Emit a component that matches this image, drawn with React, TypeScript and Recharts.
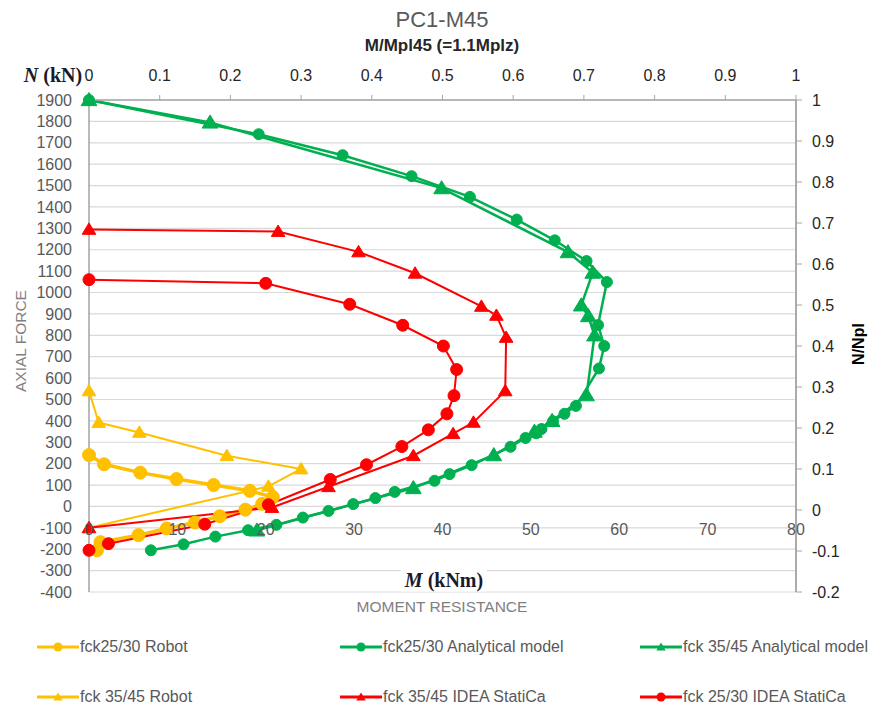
import React from "react";
import { LineChart, Line, XAxis, YAxis, CartesianGrid, ReferenceDot } from "recharts";

const YELLOW = "#FFC000";
const GREEN = "#00B050";
const RED = "#FF0000";

// fck25/30 Robot
const robot2530M = [0, 1.7, 5.8, 9.9, 14.1, 18.2, 20.8, 19.6, 17.7, 14.8, 12.0, 8.8, 5.6, 1.3, 0.9];
const robot2530N = [240, 197, 158, 128, 100, 73, 44, 12, -15, -46, -75, -103, -134, -167, -205];

// fck25/30 Analytical model
const anal2530M = [0, 19.2, 28.7, 36.5, 43.1, 48.4, 52.7, 56.3, 58.6, 57.6, 58.3, 57.7, 55.1, 53.8, 52.5, 51.2, 50.6, 49.4, 47.7, 43.3, 40.8, 39.1, 34.6, 32.4, 29.9, 27.1, 24.2, 21.2, 18.0, 14.3, 10.7, 7.0];
const anal2530N = [1900, 1740, 1642, 1544, 1447, 1341, 1244, 1147, 1049, 848, 750, 645, 470, 433, 398, 362, 342, 320, 279, 193, 151, 120, 68, 39, 11, -21, -52, -86, -111, -141, -177, -205];

// fck 35/45 Analytical model
const anal3545M = [0, 13.7, 39.9, 54.2, 57.0, 55.7, 56.5, 57.2, 56.3, 52.4, 50.4, 45.8, 36.7, 19.0];
const anal3545N = [1900, 1795, 1488, 1189, 1093, 940, 890, 800, 520, 400, 350, 240, 86, -112];

// fck 35/45 Robot
const robot3545M = [0, 1.1, 5.7, 15.6, 24.0, 20.3, 0];
const robot3545N = [540, 392, 346, 237, 175, 94, -100];

// fck 35/45 IDEA StatiCa
const idea3545M = [0, 21.4, 30.5, 36.9, 44.4, 46.1, 47.2, 47.1, 43.5, 41.2, 36.7, 27.1, 20.7, 0];
const idea3545N = [1295, 1285, 1190, 1090, 935, 893, 790, 540, 393, 340, 237, 92, -5, -100];

// fck 25/30 IDEA StatiCa
const idea2530M = [0, 20.0, 29.5, 35.5, 40.1, 41.6, 41.3, 40.5, 38.4, 35.4, 31.4, 27.3, 20.3, 13.1, 2.2, 0];
const idea2530N = [1060, 1043, 945, 847, 750, 640, 518, 433, 358, 280, 195, 126, 8, -83, -174, -205];

const leftTicks = [-400, -300, -200, -100, 0, 100, 200, 300, 400, 500, 600, 700, 800, 900, 1000, 1100, 1200, 1300, 1400, 1500, 1600, 1700, 1800, 1900];
const rightTicks = [-0.2, -0.1, 0, 0.1, 0.2, 0.3, 0.4, 0.5, 0.6, 0.7, 0.8, 0.9, 1];
const topTicks = [0, 0.1, 0.2, 0.3, 0.4, 0.5, 0.6, 0.7, 0.8, 0.9, 1];
const mTicks = [0, 10, 20, 30, 40, 50, 60, 70, 80];

const zip = (m: number[], n: number[]) => m.map((v, i) => ({ m: v, n: n[i] }));

const triPath = (cx: number, cy: number, s: number) =>
  `M${cx},${cy - s} L${cx + s * 1.05},${cy + s * 0.75} L${cx - s * 1.05},${cy + s * 0.75} Z`;

const triDot = (color: string, s: number) => (p: any) => (
  <path key={`t-${p.index}`} d={triPath(p.cx, p.cy, s)} fill={color} stroke={color} />
);

const series = [
  { name: "fck25/30 Robot", data: zip(robot2530M, robot2530N), color: YELLOW, width: 3.5, shape: "circle", size: 6.5 },
  { name: "fck25/30 Analytical model", data: zip(anal2530M, anal2530N), color: GREEN, width: 2.5, shape: "circle", size: 5.5 },
  { name: "fck 35/45 Analytical model", data: zip(anal3545M, anal3545N), color: GREEN, width: 2.5, shape: "tri", size: 7.5 },
  { name: "fck 35/45 Robot", data: zip(robot3545M, robot3545N), color: YELLOW, width: 2, shape: "tri", size: 6.5 },
  { name: "fck 35/45 IDEA StatiCa", data: zip(idea3545M, idea3545N), color: RED, width: 2, shape: "tri", size: 6.5 },
  { name: "fck 25/30 IDEA StatiCa", data: zip(idea2530M, idea2530N), color: RED, width: 2, shape: "circle", size: 6 },
];

const legendOrder = [
  { idx: 0, x: 37, y: 647 },
  { idx: 1, x: 340, y: 647 },
  { idx: 2, x: 640, y: 647 },
  { idx: 3, x: 37, y: 697 },
  { idx: 4, x: 340, y: 697 },
  { idx: 5, x: 640, y: 697 },
];

function Txt({ x, y, children, style }: any) {
  return (
    <div
      style={{
        position: "absolute",
        left: x,
        top: y,
        transform: "translate(-50%, -50%)",
        whiteSpace: "nowrap",
        ...style,
      }}
    >
      {children}
    </div>
  );
}

export default function App() {
  return (
    <div
      style={{
        position: "absolute",
        left: 0,
        top: 0,
        width: 883,
        height: 711,
        background: "#fff",
        fontFamily: "'Liberation Sans', Arial, sans-serif",
      }}
    >
      <LineChart
        width={883}
        height={711}
        data={series[1].data}
        margin={{ top: 70, right: 0, bottom: 119, left: 0 }}
      >
        <XAxis
          xAxisId="m"
          dataKey="m"
          type="number"
          domain={[0, 80]}
          ticks={mTicks}
          orientation="bottom"
          height={0}
          tick={false}
          axisLine={false}
          tickLine={false}
        />
        <XAxis
          xAxisId="top"
          dataKey="m"
          type="number"
          orientation="top"
          domain={[0, 1]}
          allowDataOverflow
          ticks={topTicks}
          interval={0}
          height={30}
          tickSize={5}
          tickMargin={14}
          axisLine={{ stroke: "#a6a6a6", strokeWidth: 1.5 }}
          tickLine={{ stroke: "#a6a6a6" }}
          tick={{ fill: "#262626", fontSize: 16 }}
        />
        <YAxis
          yAxisId="left"
          type="number"
          domain={[-400, 1900]}
          ticks={leftTicks}
          interval={0}
          width={89}
          axisLine={false}
          tickLine={false}
          tickSize={0}
          tickMargin={17}
          tick={{ fill: "#595959", fontSize: 16 }}
        />
        <YAxis
          yAxisId="right"
          orientation="right"
          type="number"
          domain={[-0.2, 1]}
          allowDataOverflow
          ticks={rightTicks}
          interval={0}
          width={87}
          tickSize={6}
          tickMargin={10}
          axisLine={{ stroke: "#a6a6a6", strokeWidth: 1.5 }}
          tickLine={{ stroke: "#a6a6a6" }}
          tick={{ fill: "#262626", fontSize: 16, textAnchor: "start" }}
        />
        <CartesianGrid xAxisId="m" yAxisId="left" vertical={false} stroke="#d9d9d9" strokeWidth={1.2} />
        <CartesianGrid xAxisId="m" yAxisId="left" horizontal={false} stroke="#8c8c8c" strokeWidth={1.2} />
        {mTicks.map((t) => (
          <ReferenceDot
            key={`mt-${t}`}
            xAxisId="m"
            yAxisId="left"
            x={t}
            y={-105}
            r={0}
            fill="none"
            stroke="none"
            label={{ value: String(t), position: "center", fill: "#595959", fontSize: 16 }}
          />
        ))}
        {series.map((s) => (
          <Line
            key={s.name}
            name={s.name}
            xAxisId="m"
            yAxisId="left"
            data={s.data}
            dataKey="n"
            type="linear"
            stroke={s.color}
            strokeWidth={s.width}
            dot={
              s.shape === "circle"
                ? { r: s.size, fill: s.color, stroke: s.color, strokeWidth: 1 }
                : triDot(s.color, s.size)
            }
            activeDot={false}
            isAnimationActive={false}
          />
        ))}
      </LineChart>

      <Txt x={442} y={20} style={{ fontSize: 22, color: "#595959" }}>PC1-M45</Txt>
      <Txt x={442} y={46} style={{ fontSize: 17, fontWeight: "bold", color: "#262626" }}>M/Mpl45 (=1.1Mplz)</Txt>
      <Txt
        x={53}
        y={75}
        style={{ fontFamily: "'Liberation Serif', serif", fontWeight: "bold", fontSize: 20, color: "#1a1a2a" }}
      >
        <i>N</i> (kN)
      </Txt>
      <Txt x={21} y={341} style={{ fontSize: 15.5, color: "#7f7f7f", transform: "translate(-50%, -50%) rotate(-90deg)" }}>
        AXIAL FORCE
      </Txt>
      <Txt
        x={859}
        y={344}
        style={{ fontSize: 16, fontWeight: "bold", color: "#000", transform: "translate(-50%, -50%) rotate(-90deg)" }}
      >
        N/Npl
      </Txt>
      <Txt
        x={444}
        y={580}
        style={{
          fontFamily: "'Liberation Serif', serif",
          fontWeight: "bold",
          fontSize: 20,
          color: "#1a1a2a",
          background: "#fff",
          padding: "0 4px",
        }}
      >
        <i>M</i> (kNm)
      </Txt>
      <Txt x={442} y={607} style={{ fontSize: 15.5, color: "#7f7f7f" }}>MOMENT RESISTANCE</Txt>

      {legendOrder.map((l) => {
        const s = series[l.idx];
        return (
          <div
            key={s.name}
            style={{ position: "absolute", left: l.x, top: l.y - 10, height: 20, display: "flex", alignItems: "center" }}
          >
            <svg width={42} height={20}>
              <line x1={0} y1={10} x2={42} y2={10} stroke={s.color} strokeWidth={3} />
              {s.shape === "circle" ? (
                <circle cx={21} cy={10} r={4.5} fill={s.color} />
              ) : (
                <path d={triPath(21, 10, 4.5)} fill={s.color} />
              )}
            </svg>
            <span style={{ fontSize: 16, color: "#595959", marginLeft: 1 }}>{s.name}</span>
          </div>
        );
      })}
    </div>
  );
}
